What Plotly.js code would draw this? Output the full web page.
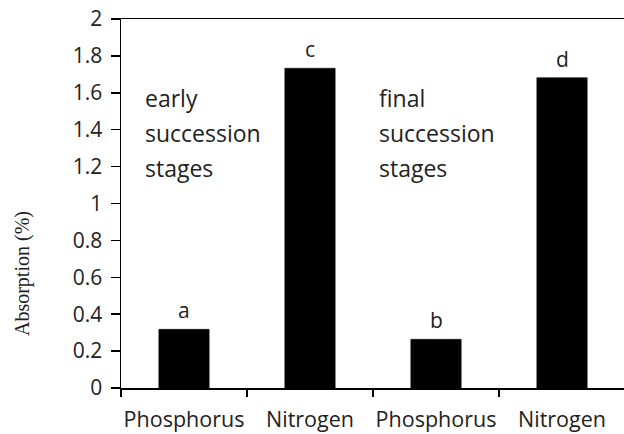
<!DOCTYPE html>
<html>
<head>
<meta charset="utf-8">
<script src="https://cdn.plot.ly/plotly-3.0.1.min.js"></script>
<style>html,body{margin:0;padding:0;background:#fff;}#chart{width:624px;height:434px;}</style>
</head>
<body>
<div id="chart"></div>
<script>
const categories = ["Phosphorus", "Nitrogen", "Phosphorus", "Nitrogen"];
const values = [0.318, 1.733, 0.264, 1.682];
const letters = ["a", "c", "b", "d"];
const earlyLines = ["early", "succession", "stages"];
const finalLines = ["final", "succession", "stages"];
const yTitle = "Absorption (%)";

const xs = categories.map((c, i) => i);

const trace = {
  type: "bar",
  x: xs,
  y: values,
  width: 0.4,
  marker: {color: "#000", line: {color: "#000", width: 0.5}},
  hoverinfo: "skip"
};

const ann = letters.map((t, i) => ({
  x: xs[i], y: values[i], xref: "x", yref: "y",
  text: t, showarrow: false, yanchor: "bottom", yshift: 3,
  font: {family: "Open Sans", size: 21, color: "#222"}
}));

const lineY = [0.785, 0.69, 0.597];
function addBlock(lines, xp) {
  lines.forEach((t, k) => ann.push({
    x: xp, y: lineY[k], xref: "paper", yref: "paper", text: t,
    showarrow: false, xanchor: "left", yanchor: "middle", align: "left",
    font: {family: "Open Sans", size: 23, color: "#222"}
  }));
}
addBlock(earlyLines, 0.044);
addBlock(finalLines, 0.508);

ann.push({
  x: -0.196, y: 0.31, xref: "paper", yref: "paper", text: yTitle,
  showarrow: false, textangle: -90, xanchor: "center", yanchor: "middle",
  font: {family: "Liberation Serif", size: 20, color: "#222"}
});

const layout = {
  width: 624, height: 434,
  margin: {l: 121, r: 0, t: 19, b: 46, pad: 0},
  paper_bgcolor: "#fff", plot_bgcolor: "#fff",
  showlegend: false,
  bargap: 0.6,
  xaxis: {
    range: [-0.5, 3.492],
    tickmode: "array", tickvals: xs, ticktext: categories,
    ticks: "", showgrid: false, zeroline: false,
    showline: true, linecolor: "#000", linewidth: 1.5, mirror: true,
    tickfont: {family: "Open Sans", size: 21.5, color: "#222"},
    ticklabelstandoff: 12,
    minor: {tick0: -0.5, dtick: 1, ticks: "outside", ticklen: 7, tickcolor: "#000", tickwidth: 1.5, showgrid: false}
  },
  yaxis: {
    range: [0, 2], dtick: 0.2, tick0: 0,
    ticks: "outside", ticklen: 9, tickcolor: "#000", tickwidth: 1.5,
    showgrid: false, zeroline: false,
    showline: true, linecolor: "#000", linewidth: 1.5,
    tickfont: {family: "Open Sans", size: 21, color: "#222"},
    ticklabelstandoff: 4
  },
  annotations: ann
};

Plotly.newPlot("chart", [trace], layout, {staticPlot: true, displayModeBar: false});
</script>
</body>
</html>
